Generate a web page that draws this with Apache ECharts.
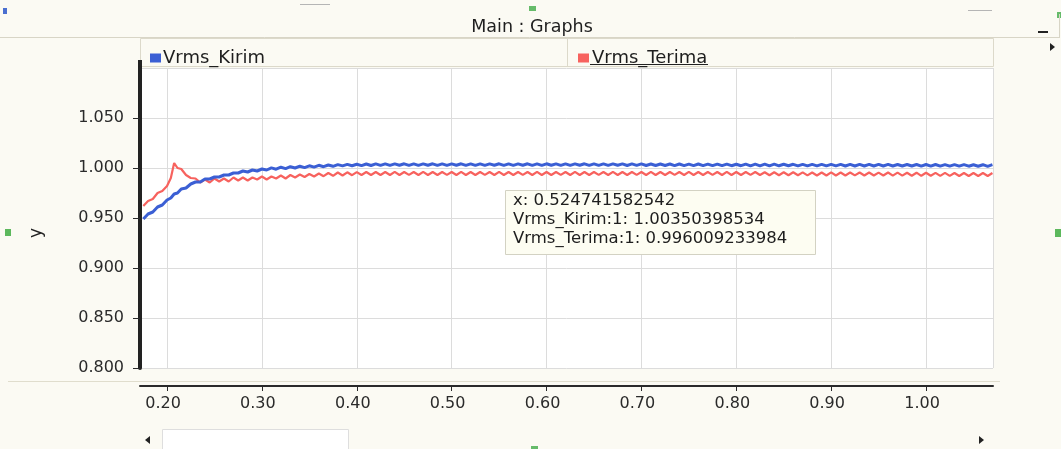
<!DOCTYPE html>
<html>
<head>
<meta charset="utf-8">
<title>Main : Graphs</title>
<script src="https://cdn.jsdelivr.net/npm/echarts@6/dist/echarts.min.js"></script>
<style>
  html, body { margin: 0; padding: 0; background: #fbfaf3; }
  #chart { width: 1061px; height: 449px; }
</style>
</head>
<body>
<div id="chart"></div>
<script>
// time axis samples (s)
const times = [
  0.175, 0.18, 0.185, 0.19, 0.195, 0.2, 0.204, 0.2075, 0.211, 0.215, 0.22, 0.225,
  0.23, 0.235, 0.24, 0.245, 0.25, 0.255, 0.26, 0.265, 0.27, 0.275,
  0.28, 0.285, 0.29, 0.295, 0.3, 0.305, 0.31, 0.315, 0.32, 0.325,
  0.33, 0.335, 0.34, 0.345, 0.35, 0.355, 0.36, 0.365, 0.37, 0.375,
  0.38, 0.385, 0.39, 0.395, 0.4, 0.405, 0.41, 0.415, 0.42, 0.425,
  0.43, 0.435, 0.44, 0.445, 0.45, 0.455, 0.46, 0.465, 0.47, 0.475,
  0.48, 0.485, 0.49, 0.495, 0.5, 0.505, 0.51, 0.515, 0.52, 0.525,
  0.53, 0.535, 0.54, 0.545, 0.55, 0.555, 0.56, 0.565, 0.57, 0.575,
  0.58, 0.585, 0.59, 0.595, 0.6, 0.605, 0.61, 0.615, 0.62, 0.625,
  0.63, 0.635, 0.64, 0.645, 0.65, 0.655, 0.66, 0.665, 0.67, 0.675,
  0.68, 0.685, 0.69, 0.695, 0.7, 0.705, 0.71, 0.715, 0.72, 0.725,
  0.73, 0.735, 0.74, 0.745, 0.75, 0.755, 0.76, 0.765, 0.77, 0.775,
  0.78, 0.785, 0.79, 0.795, 0.8, 0.805, 0.81, 0.815, 0.82, 0.825,
  0.83, 0.835, 0.84, 0.845, 0.85, 0.855, 0.86, 0.865, 0.87, 0.875,
  0.88, 0.885, 0.89, 0.895, 0.9, 0.905, 0.91, 0.915, 0.92, 0.925,
  0.93, 0.935, 0.94, 0.945, 0.95, 0.955, 0.96, 0.965, 0.97, 0.975,
  0.98, 0.985, 0.99, 0.995, 1.0, 1.005, 1.01, 1.015, 1.02, 1.025,
  1.03, 1.035, 1.04, 1.045, 1.05, 1.055, 1.06, 1.065, 1.07
];

// Vrms_Kirim (sent)
const vrmsKirim = [
  0.949, 0.954, 0.956, 0.961, 0.963, 0.968, 0.970, 0.974, 0.975, 0.979, 0.980, 0.984,
  0.986, 0.986, 0.989, 0.989, 0.991, 0.991, 0.993, 0.993, 0.995, 0.995,
  0.997, 0.996, 0.998, 0.997, 0.999, 0.998, 1.0001, 0.9988, 1.0008, 0.9994,
  1.0013, 1.0, 1.0018, 1.0004, 1.0022, 1.0009, 1.0027, 1.0013, 1.003, 1.0017,
  1.0034, 1.0021, 1.0036, 1.0023, 1.0038, 1.0024, 1.004, 1.0025, 1.0041, 1.0026,
  1.0042, 1.0026, 1.0041, 1.0027, 1.0042, 1.0026, 1.0042, 1.0026, 1.0041, 1.0027,
  1.0042, 1.0026, 1.0042, 1.0026, 1.0041, 1.0027, 1.0042, 1.0026, 1.0042, 1.0026,
  1.0042, 1.0026, 1.0041, 1.0027, 1.0042, 1.0026, 1.0042, 1.0026, 1.0041, 1.0027,
  1.0042, 1.0026, 1.0041, 1.0026, 1.0042, 1.0027, 1.0041, 1.0026, 1.0042, 1.0026,
  1.0041, 1.0027, 1.0042, 1.0026, 1.0042, 1.0026, 1.0041, 1.0026, 1.0041, 1.0027,
  1.0041, 1.0025, 1.0041, 1.0026, 1.0041, 1.0025, 1.004, 1.0025, 1.004, 1.0025,
  1.004, 1.0024, 1.004, 1.0024, 1.0039, 1.0024, 1.004, 1.0024, 1.0039, 1.0023,
  1.0039, 1.0023, 1.0039, 1.0023, 1.0038, 1.0023, 1.0039, 1.0022, 1.0038, 1.0022,
  1.0038, 1.0022, 1.0038, 1.0022, 1.0037, 1.0022, 1.0037, 1.0021, 1.0037, 1.0021,
  1.0036, 1.0021, 1.0037, 1.0021, 1.0036, 1.0021, 1.0036, 1.002, 1.0036, 1.002,
  1.0036, 1.002, 1.0036, 1.002, 1.0036, 1.002, 1.0036, 1.002, 1.0035, 1.002,
  1.0035, 1.002, 1.0035, 1.0019, 1.0035, 1.0019, 1.0035, 1.0019, 1.0034, 1.0019,
  1.0034, 1.0018, 1.0034, 1.0018, 1.0033, 1.0018, 1.0033, 1.0017, 1.0033
];

// Vrms_Terima (received)
const vrmsTerima = [
  0.962, 0.967, 0.969, 0.975, 0.977, 0.982, 0.990, 1.005, 1.000, 0.999, 0.993, 0.990,
  0.9895, 0.9855, 0.9885, 0.9855, 0.9895, 0.9865, 0.9895, 0.9865, 0.9905, 0.9875,
  0.9905, 0.9875, 0.9905, 0.9885, 0.9915, 0.9885, 0.9915, 0.9895, 0.9925, 0.9895,
  0.993, 0.9905, 0.9935, 0.991, 0.994, 0.9915, 0.9945, 0.9918, 0.995, 0.9922,
  0.9955, 0.9925, 0.9957, 0.9928, 0.9959, 0.993, 0.996, 0.993, 0.996, 0.993,
  0.996, 0.993, 0.9961, 0.993, 0.996, 0.9931, 0.996, 0.993, 0.9961, 0.993,
  0.996, 0.993, 0.996, 0.9931, 0.996, 0.993, 0.9961, 0.993, 0.996, 0.993,
  0.996, 0.9931, 0.996, 0.993, 0.9961, 0.993, 0.996, 0.993, 0.996, 0.9931,
  0.996, 0.993, 0.9961, 0.993, 0.996, 0.993, 0.996, 0.9931, 0.996, 0.993,
  0.9961, 0.993, 0.996, 0.993, 0.996, 0.9931, 0.996, 0.993, 0.9961, 0.993,
  0.996, 0.993, 0.996, 0.9931, 0.996, 0.993, 0.9961, 0.993, 0.996, 0.993,
  0.996, 0.9931, 0.996, 0.993, 0.9961, 0.993, 0.996, 0.993, 0.996, 0.9931,
  0.996, 0.993, 0.9961, 0.993, 0.996, 0.993, 0.996, 0.9931, 0.996, 0.993,
  0.9958, 0.9928, 0.9958, 0.9928, 0.9957, 0.9927, 0.9957, 0.9927, 0.9956, 0.9926,
  0.9955, 0.9925, 0.9955, 0.9925, 0.9956, 0.9925, 0.9955, 0.9925, 0.9955, 0.9926,
  0.9955, 0.9925, 0.9955, 0.9925, 0.9954, 0.9925, 0.9955, 0.9924, 0.9954, 0.9924,
  0.9953, 0.9923, 0.9953, 0.9922, 0.9952, 0.9922, 0.9951, 0.9921, 0.9951, 0.9921,
  0.995, 0.992, 0.995, 0.992, 0.995, 0.992, 0.995, 0.992, 0.995
];

// readout box
const cursorX = '0.524741582542';
const cursorKirim = '1.00350398534';
const cursorTerima = '0.996009233984';

const FONT = 'DejaVu Sans';
const BLUE = '#3b5fd4';
const RED = '#f7625e';

const chart = echarts.init(document.getElementById('chart'));

const pairs = (ys) => times.map((t, i) => [t, ys[i]]);

chart.setOption({
  animation: false,
  backgroundColor: '#fbfaf3',
  textStyle: { fontFamily: FONT },
  grid: {
    left: 140, right: 68, top: 68, bottom: 81,
    show: true, backgroundColor: '#ffffff', borderWidth: 0
  },
  legend: [
    {
      left: 145, top: 44,
      data: ['Vrms_Kirim'],
      icon: 'rect', itemWidth: 11, itemHeight: 9, itemGap: 0,
      textStyle: { fontFamily: FONT, fontSize: 18, color: '#1e1e1e', padding: [0, 0, 0, -3] }
    },
    {
      left: 573, top: 44,
      data: ['Vrms_Terima'],
      icon: 'rect', itemWidth: 11, itemHeight: 9, itemGap: 0,
      textStyle: { fontFamily: FONT, fontSize: 18, color: '#1e1e1e', padding: [0, 0, 0, -2] }
    }
  ],
  xAxis: {
    type: 'value',
    min: 0.1715, max: 1.0706,
    splitNumber: 9,
    offset: 18,
    axisLine: { show: true, lineStyle: { color: '#2a2a2a', width: 2 } },
    axisTick: { show: true, length: 5, lineStyle: { color: '#2a2a2a' } },
    axisLabel: {
      showMinLabel: false, showMaxLabel: false,
      margin: 10,
      padding: [0, 8, 0, 0],
      fontFamily: FONT, fontSize: 16, color: '#2a2a2a',
      formatter: v => v.toFixed(2)
    },
    splitLine: { show: true, lineStyle: { color: '#dcdcdc', width: 1 } }
  },
  yAxis: {
    type: 'value',
    min: 0.8, max: 1.1, interval: 0.05,
    axisLine: { show: true, lineStyle: { color: '#222222', width: 4 } },
    axisTick: { show: true, length: 7, lineStyle: { color: '#2a2a2a' } },
    axisLabel: {
      showMaxLabel: false,
      margin: 16,
      fontFamily: FONT, fontSize: 16, color: '#2a2a2a',
      formatter: v => v.toFixed(3)
    },
    splitLine: { show: true, lineStyle: { color: '#dcdcdc', width: 1 } }
  },
  series: [
    {
      name: 'Vrms_Terima',
      type: 'line',
      data: pairs(vrmsTerima),
      showSymbol: false,
      color: RED,
      lineStyle: { width: 2.2, color: RED }
    },
    {
      name: 'Vrms_Kirim',
      type: 'line',
      data: pairs(vrmsKirim),
      showSymbol: false,
      color: BLUE,
      lineStyle: { width: 3, color: BLUE }
    }
  ],
  graphic: [
    // window decorations
    { type: 'rect', shape: { x: 3, y: 8, width: 4, height: 6 }, style: { fill: '#4a6fd0' } },
    { type: 'rect', shape: { x: 300, y: 4, width: 30, height: 1 }, style: { fill: '#b5b5b5' } },
    { type: 'rect', shape: { x: 968, y: 10, width: 24, height: 1 }, style: { fill: '#b5b5b5' } },
    { type: 'rect', shape: { x: 529, y: 6, width: 7, height: 5 }, style: { fill: '#66bb6a' } },
    { type: 'rect', shape: { x: 1057, y: 12, width: 4, height: 6 }, style: { fill: '#66bb6a' } },
    { type: 'rect', shape: { x: 5, y: 229, width: 6, height: 7 }, style: { fill: '#5cb85c' } },
    { type: 'rect', shape: { x: 1055, y: 229, width: 6, height: 8 }, style: { fill: '#5cb85c' } },
    { type: 'line', shape: { x1: 0, y1: 37.5, x2: 1059, y2: 37.5 }, style: { stroke: '#d8d5c6', lineWidth: 1 } },
    { type: 'line', shape: { x1: 1059.5, y1: 14, x2: 1059.5, y2: 38 }, style: { stroke: '#d8d5c6', lineWidth: 1 } },
    { type: 'rect', shape: { x: 1038, y: 31, width: 10, height: 2 }, style: { fill: '#222' } },
    { type: 'polygon', shape: { points: [[1050, 43], [1055, 47], [1050, 51]] }, style: { fill: '#222' } },
    {
      type: 'text', x: 532, y: 27,
      style: { text: 'Main : Graphs', fontFamily: FONT, fontSize: 17.5, fill: '#1e1e1e', align: 'center', verticalAlign: 'middle' }
    },
    // legend box
    { type: 'rect', shape: { x: 140.5, y: 38.5, width: 853, height: 28 }, style: { fill: 'none', stroke: '#dcd9ca', lineWidth: 1 } },
    { type: 'line', shape: { x1: 567.5, y1: 38, x2: 567.5, y2: 66 }, style: { stroke: '#dcd9ca', lineWidth: 1 } },
    { type: 'line', shape: { x1: 590, y1: 64.5, x2: 708, y2: 64.5 }, style: { stroke: '#222', lineWidth: 1 } },
    // thick y axis runs a little above the plot
    { type: 'rect', shape: { x: 138, y: 60, width: 4, height: 10 }, style: { fill: '#222' } },
    // lower separators and scroll bar
    { type: 'line', shape: { x1: 8, y1: 381.5, x2: 1000, y2: 381.5 }, style: { stroke: '#e0ddcd', lineWidth: 1 } },
    { type: 'rect', shape: { x: 162.5, y: 429.5, width: 186, height: 20 }, style: { fill: '#ffffff', stroke: '#dedede', lineWidth: 1 } },
    { type: 'polygon', shape: { points: [[150, 436], [145, 440], [150, 444]] }, style: { fill: '#222' } },
    { type: 'polygon', shape: { points: [[979, 436], [984, 440], [979, 444]] }, style: { fill: '#222' } },
    { type: 'rect', shape: { x: 531, y: 446, width: 7, height: 3 }, style: { fill: '#66bb6a' } },
    // y axis name
    {
      type: 'text', x: 37, y: 233, rotation: Math.PI / 2,
      style: { text: 'y', fontFamily: FONT, fontSize: 17, fill: '#222', align: 'center', verticalAlign: 'middle' }
    },
    // cursor readout
    { type: 'rect', z: 100, shape: { x: 505.5, y: 190.5, width: 310, height: 64 }, style: { fill: '#fdfdf2', stroke: '#d3d2c3', lineWidth: 1 } },
    { type: 'text', z: 101, x: 513, y: 201, style: { text: 'x: ' + cursorX, fontFamily: FONT, fontSize: 16.5, fill: '#1e1e1e', verticalAlign: 'middle' } },
    { type: 'text', z: 101, x: 513, y: 220, style: { text: 'Vrms_Kirim:1: ' + cursorKirim, fontFamily: FONT, fontSize: 16.5, fill: '#1e1e1e', verticalAlign: 'middle' } },
    { type: 'text', z: 101, x: 513, y: 239, style: { text: 'Vrms_Terima:1: ' + cursorTerima, fontFamily: FONT, fontSize: 16.5, fill: '#1e1e1e', verticalAlign: 'middle' } }
  ]
});
</script>
</body>
</html>
